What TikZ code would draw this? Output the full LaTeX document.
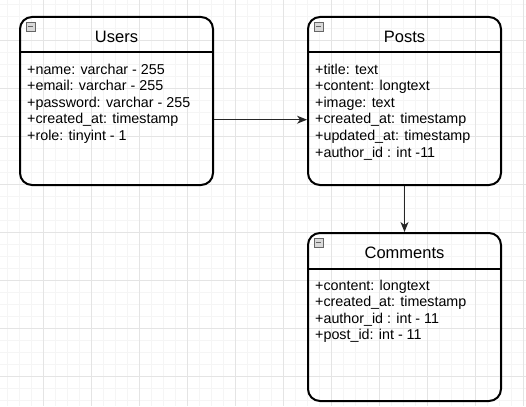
\documentclass[tikz,border=0pt]{standalone}
\usepackage{fontspec}
\setmainfont{Liberation Sans}
\usetikzlibrary{arrows.meta}
\definecolor{gridmajor}{HTML}{E4E4E4}
\definecolor{gridminor}{HTML}{F5F5F5}

\begin{document}
\begin{tikzpicture}[x=1pt, y=-1pt,
  entity/.style={draw, line width=2pt, rounded corners=12pt, minimum width=193pt,
    minimum height=168pt, anchor=north west, inner sep=0pt},
  title/.style={font=\fontsize{16.5}{20}\selectfont},
  fields/.style={anchor=north west, align=left, inner sep=0pt,
    font=\fontsize{14.3}{16.6}\selectfont},
  toggle/.style={draw=gray!80!black, fill=gray!30, minimum size=9.5pt, inner sep=0pt,
    path picture={\draw[line width=1.2pt] ([xshift=1.8pt]path picture bounding box.west)
      -- ([xshift=-1.8pt]path picture bounding box.east);}},
  link/.style={-{Stealth[length=10pt,width=8pt,inset=3pt]}, line width=1pt, black!85}]
  \useasboundingbox (0,0) rectangle (526,406);
  \fill[white] (0,0) rectangle (526,406);
  % background grid
  \foreach \x in {7.3,19.3,...,526} \draw[gridminor, line width=1pt] (\x,0) -- (\x,406);
  \foreach \y in {4.3,16.3,...,406} \draw[gridminor, line width=1pt] (0,\y) -- (526,\y);
  \foreach \x in {43.3,91.3,...,526} \draw[gridmajor, line width=1pt] (\x,0) -- (\x,406);
  \foreach \y in {40.3,88.3,...,406} \draw[gridmajor, line width=1pt] (0,\y) -- (526,\y);

  % tables
  \node[entity] (users) at (19,16) {};
  \node[entity] (posts) at (307,16) {};
  \node[entity] (comments) at (307,232) {};

  \draw[line width=2pt] ([yshift=-36pt]users.north west) -- ([yshift=-36pt]users.north east);
  \draw[line width=2pt] ([yshift=-36pt]posts.north west) -- ([yshift=-36pt]posts.north east);
  \draw[line width=2pt] ([yshift=-37pt]comments.north west) -- ([yshift=-37pt]comments.north east);

  \node[toggle] (usersToggle) at ([shift={(11.5pt,-10.5pt)}]users.north west) {};
  \node[toggle] (postsToggle) at ([shift={(11.5pt,-10.5pt)}]posts.north west) {};
  \node[toggle] (commentsToggle) at ([shift={(11.5pt,-10.5pt)}]comments.north west) {};

  \node[title] (usersTitle) at ([yshift=-20.5pt]users.north) {Users};
  \node[title] (postsTitle) at ([yshift=-20.5pt]posts.north) {Posts};
  \node[title] (commentsTitle) at ([yshift=-21pt]comments.north) {Comments};

  \node[fields] (usersFields) at ([shift={(8pt,-47.5pt)}]users.north west)
    {+name: varchar - 255\\+email: varchar - 255\\+password: varchar - 255\\
     +created\_at: timestamp\\+role: tinyint - 1};
  \node[fields] (postsFields) at ([shift={(8pt,-47.5pt)}]posts.north west)
    {+title: text\\+content: longtext\\+image: text\\+created\_at: timestamp\\
     +updated\_at: timestamp\\+author\_id : int -11};
  \node[fields] (commentsFields) at ([shift={(8pt,-47.5pt)}]comments.north west)
    {+content: longtext\\+created\_at: timestamp\\+author\_id : int - 11\\
     +post\_id: int - 11};

  % relations
  \draw[link] ([yshift=-18.7pt]users.east) -- ([yshift=-18.7pt]posts.west);
  \draw[link] (posts.south) -- (comments.north);
\end{tikzpicture}
\end{document}
